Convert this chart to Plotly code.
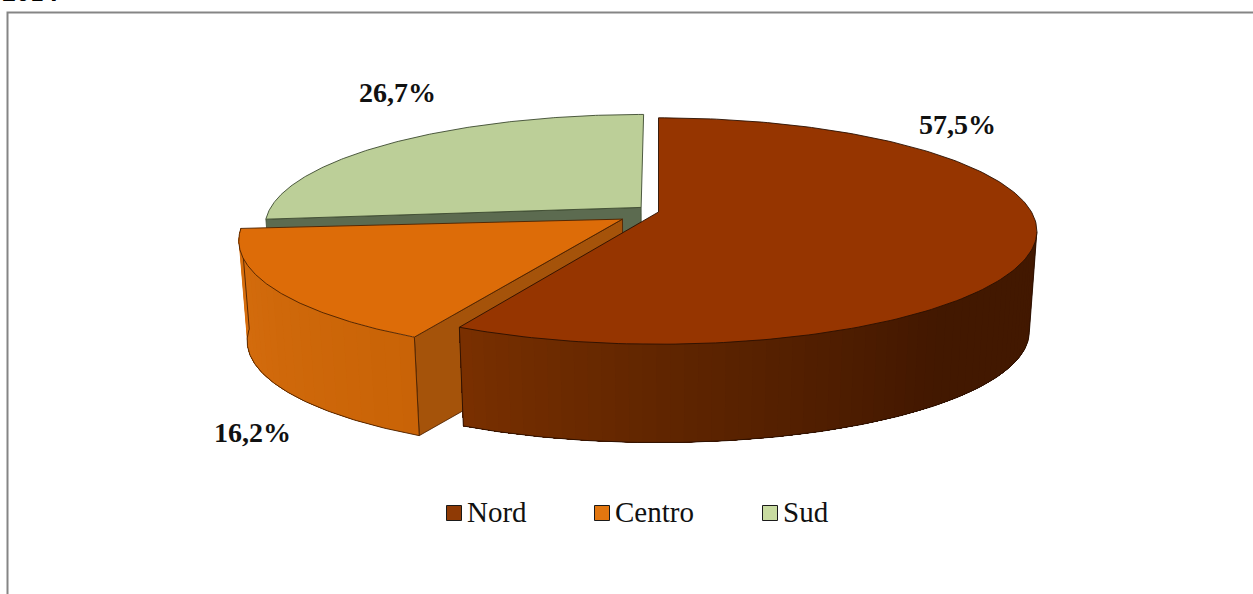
import numpy as np
import plotly.graph_objects as go

# ---- data ----
categories = ["Nord", "Centro", "Sud"]
values = [57.5, 16.2, 26.7]
title_text = "2014"

# ---- style / layout constants ----
W, H = 1253, 594
explode = [0.0, 0.115, 0.063]
top_colors = ["#963500", "#DD6C08", "#BCCF98"]
swatch_colors = ["#8F3A05", "#E2760F", "#C8DBA0"]
cut_colors = [None, "#A5530A", "#5C6B50"]
edge_colors = ["#2A1000", "#4A2000", "#3C4A30"]
rim_stops = [
    [(100, "#421800"), (140, "#431800"), (180, "#612600"), (207, "#7A3000")],
    [(200, "#C86206"), (270, "#D87010")],
    None,
]
FONT = "Liberation Serif"
label_pos = [(957, 124), (252, 432), (397, 92)]
legend_swatch = [(454, 513), (602, 513), (770, 513)]
legend_text = [(467, 515), (615, 515), (783, 515)]

# projection of the pie plane
CX, CY = 658.5, 212.0
R, K, P = 373.0, 110.0, 0.168
DEPTH, SHRINK = 101.0, 0.98


def hex_rgb(h):
    return np.array([int(h[i:i + 2], 16) for i in (1, 3, 5)], float)


def stop_color(stops, t):
    ts = [s[0] for s in stops]
    cs = np.array([hex_rgb(s[1]) for s in stops])
    c = [np.interp(t, ts, cs[:, i]) for i in range(3)]
    return "rgb(%d,%d,%d)" % tuple(c)


def project(theta_deg, radius, e, mid_deg, lower=False):
    th = np.radians(theta_deg)
    mid = np.radians(mid_deg)
    X = radius * np.sin(th) + e * np.sin(mid)
    Y = -radius * np.cos(th) - e * np.cos(mid)
    den = 1 - P * Y
    xs, ys = R * X / den, K * Y / den
    if lower:
        return CX + SHRINK * xs, CY + SHRINK * ys + DEPTH
    return CX + xs, CY + ys


# the printed shares are percentages of 100; the rounding surplus goes off the last slice's start
spans = [v / 100 * 360 for v in values]
starts = [sum(spans[:i]) for i in range(len(spans))]
starts[-1] = 360 - spans[-1]
slices = [
    dict(i=i, a=starts[i], b=starts[i] + spans[i], mid=starts[i] + spans[i] / 2, e=explode[i])
    for i in range(len(values))
]

fig = go.Figure()


def poly(xs, ys, fill, line=None, width=0.8):
    fig.add_trace(go.Scatter(
        x=list(xs), y=list(ys), mode="lines", fill="toself", fillcolor=fill,
        line=dict(color=line or fill, width=width), hoverinfo="skip", showlegend=False))


def stroke(xs, ys, color, width=0.9):
    fig.add_trace(go.Scatter(
        x=list(xs), y=list(ys), mode="lines", line=dict(color=color, width=width),
        hoverinfo="skip", showlegend=False))


def cut_face(s, angle):
    i = s["i"]
    ax, ay = project(angle, 0, s["e"], s["mid"])
    bx, by = project(angle, 1, s["e"], s["mid"])
    cx, cy = project(angle, 1, s["e"], s["mid"], lower=True)
    dx, dy = project(angle, 0, s["e"], s["mid"], lower=True)
    poly([ax, bx, cx, dx, ax], [ay, by, cy, dy, ay], cut_colors[i], edge_colors[i])


def rim(s, a, b, n):
    """Painter's gradient: every band reaches to the far end, the next one covers it (no seams)."""
    i = s["i"]
    edges = np.linspace(a, b, n + 1)
    for t0 in edges[:-1]:
        tt = np.linspace(t0, b, 80)
        x0, y0 = project(tt, 1, s["e"], s["mid"])
        x1, y1 = project(tt[::-1], 1, s["e"], s["mid"], lower=True)
        c = stop_color(rim_stops[i], t0 + (b - a) / n / 2)
        poly(np.r_[x0, x1, x0[0]], np.r_[y0, y1, y0[0]], c, width=0)
    tt = np.linspace(a, b, 120)
    xl, yl = project(tt, 1, s["e"], s["mid"], lower=True)
    stroke(xl, yl, edge_colors[i])
    for t in (a, b):
        xa, ya = project(t, 1, s["e"], s["mid"])
        xc, yc = project(t, 1, s["e"], s["mid"], lower=True)
        stroke([xa, xc], [ya, yc], edge_colors[i])


def top(s):
    i = s["i"]
    tt = np.linspace(s["a"], s["b"], 200)
    x, y = project(tt, 1, s["e"], s["mid"])
    ax, ay = project(0, 0, s["e"], s["mid"])
    poly(np.r_[ax, x, ax], np.r_[ay, y, ay], top_colors[i], edge_colors[i], 0.9)


nord, centro, sud = slices

# back to front
cut_face(sud, sud["a"])
top(sud)
cut_face(centro, centro["a"])
rim(centro, centro["a"], centro["b"], 24)
top(centro)
rim(nord, 100, nord["b"], 60)
top(nord)

# legend
fig.add_trace(go.Scatter(
    x=[p[0] for p in legend_swatch], y=[p[1] for p in legend_swatch],
    mode="markers",
    marker=dict(symbol="square", size=15, color=swatch_colors, line=dict(color="#1a1a1a", width=1)),
    hoverinfo="skip", showlegend=False))
fig.add_trace(go.Scatter(
    x=[p[0] for p in legend_text], y=[p[1] for p in legend_text],
    mode="text", text=categories, textposition="middle right",
    textfont=dict(family=FONT, size=29, color="#111111"),
    hoverinfo="skip", showlegend=False))

annotations = [
    dict(x=p[0], y=p[1], text="<b>%s%%</b>" % ("%.1f" % v).replace(".", ","), showarrow=False,
         font=dict(family=FONT, size=28, color="#111111"), xanchor="center", yanchor="middle")
    for p, v in zip(label_pos, values)
]
annotations.append(dict(x=0, y=9, text="<b>%s</b>" % title_text, showarrow=False, xanchor="left",
                        yanchor="bottom", font=dict(family=FONT, size=28, color="#000000")))

frame = dict(type="path", path="M 7.5 %d L 7.5 12.5 L %d 12.5" % (H + 2, W + 2),
             line=dict(color="#858585", width=2))

fig.update_layout(
    width=W, height=H, margin=dict(l=0, r=0, t=0, b=0), autosize=False,
    paper_bgcolor="white", plot_bgcolor="white", showlegend=False,
    xaxis=dict(range=[0, W], visible=False, fixedrange=True),
    yaxis=dict(range=[H, 0], visible=False, fixedrange=True),
    annotations=annotations, shapes=[frame],
)
fig.write_html("out.html", config=dict(displayModeBar=False),
               post_script="document.body.style.margin='0';document.body.style.overflow='hidden';")
